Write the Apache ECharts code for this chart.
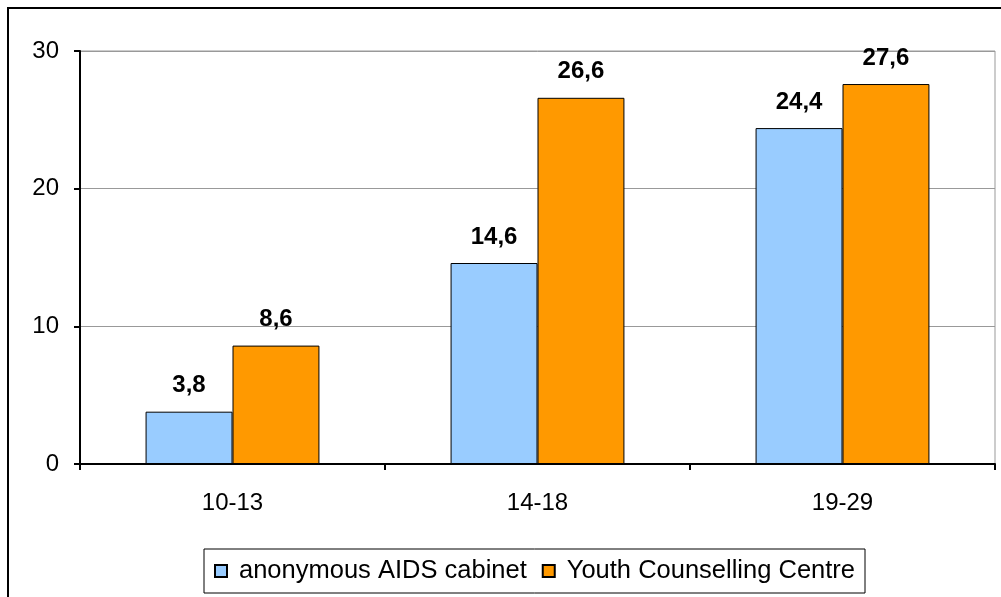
<html>
<head>
    <meta charset="utf-8">
</head>
<body style="margin:0">
    <script src="https://cdn.jsdelivr.net/npm/echarts@6/dist/echarts.min.js"></script>
    <div id="main" style="width: 1001px;height: 597px"></div>
    <script>

var ageGroups = ['10-13', '14-18', '19-29'];
var aidsCabinet = [3.8, 14.6, 24.4];
var youthCentre = [8.6, 26.6, 27.6];
var seriesNames = ['anonymous AIDS cabinet', 'Youth Counselling Centre'];

var myChart = echarts.init(document.getElementById('main'));

var font = '"Liberation Sans", Arial, sans-serif';

var labelStyle = {
    show: true,
    position: 'top',
    distance: 14,
    fontFamily: font,
    fontWeight: 'bold',
    fontSize: 24,
    color: '#000',
    formatter: function (p) {
        return String(p.value).replace('.', ',');
    }
};

var option = {
    animation: false,
    backgroundColor: '#fff',
    graphic: [{
        type: 'rect',
        shape: { x: 8, y: 8, width: 1020, height: 620 },
        style: { fill: null, stroke: '#000', lineWidth: 2 }
    }],
    grid: {
        left: 80,
        right: 6,
        top: 51,
        bottom: 133,
        show: true,
        borderColor: '#999',
        borderWidth: 1
    },
    legend: {
        data: seriesNames,
        bottom: 4,
        left: 204,
        itemWidth: 12,
        itemHeight: 12,
        itemGap: 15,
        icon: 'rect',
        padding: [9, 10, 9, 10],
        borderColor: '#000',
        borderWidth: 1,
        textStyle: {
            fontFamily: font,
            fontSize: 25.5,
            color: '#000',
            padding: [0, 0, 0, 7]
        }
    },
    xAxis: {
        type: 'category',
        data: ageGroups,
        axisLine: { lineStyle: { color: '#000', width: 2 } },
        axisTick: { show: true, length: 6, lineStyle: { color: '#000', width: 2 } },
        axisLabel: {
            margin: 27,
            fontFamily: font,
            fontSize: 24,
            color: '#000'
        }
    },
    yAxis: {
        type: 'value',
        min: 0,
        max: 30,
        interval: 10,
        axisLine: { show: true, lineStyle: { color: '#000', width: 2 } },
        axisTick: { show: true, length: 6, lineStyle: { color: '#000', width: 2 } },
        axisLabel: {
            margin: 21,
            fontFamily: font,
            fontSize: 24,
            color: '#000'
        },
        splitLine: { lineStyle: { color: '#999', width: 1 } }
    },
    series: [
        {
            name: seriesNames[0],
            type: 'bar',
            data: aidsCabinet,
            barGap: '0%',
            barCategoryGap: '43%',
            itemStyle: { color: '#99CCFF', borderColor: '#000', borderWidth: 1 },
            label: labelStyle
        },
        {
            name: seriesNames[1],
            type: 'bar',
            data: youthCentre,
            itemStyle: { color: '#FF9900', borderColor: '#000', borderWidth: 1 },
            label: labelStyle
        }
    ]
};

myChart.setOption(option);

</script>
</body>
</html>
